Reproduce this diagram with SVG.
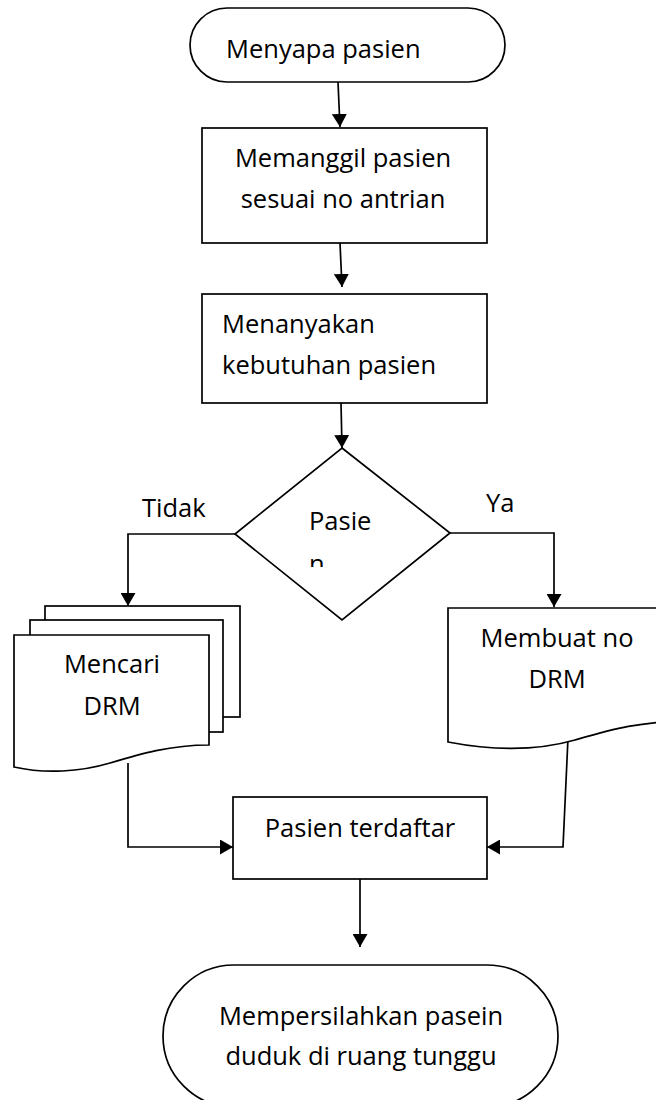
<svg xmlns="http://www.w3.org/2000/svg" width="656" height="1100" viewBox="0 0 656 1100">
  <style>
    .shape { fill: #ffffff; stroke: #000000; stroke-width: 1.7; }
    .edge { fill: none; stroke: #000000; stroke-width: 1.7; }
    .label { font-family: "Open Sans", "Liberation Sans", sans-serif; font-size: 25.5px; fill: #000000; }
    .mid { text-anchor: middle; }
  </style>
  <defs>
    <marker id="arrow" viewBox="0 0 13 15" refX="13" refY="7.5" markerWidth="13" markerHeight="15" markerUnits="userSpaceOnUse" orient="auto">
      <path d="M0,0 L13,7.5 L0,15 Z" fill="#000000"/>
    </marker>
    <clipPath id="decisionClip">
      <rect x="230" y="440" width="230" height="127"/>
    </clipPath>
  </defs>
  <rect width="656" height="1100" fill="#ffffff"/>

  <g id="connectors">
    <line class="edge" x1="338" y1="82" x2="340" y2="127" marker-end="url(#arrow)"/>
    <line class="edge" x1="340" y1="243" x2="342" y2="287" marker-end="url(#arrow)"/>
    <line class="edge" x1="341" y1="403" x2="342" y2="448" marker-end="url(#arrow)"/>
    <polyline class="edge" points="235,534 128,534 128,606" marker-end="url(#arrow)"/>
    <polyline class="edge" points="450,533 554,533 554,607" marker-end="url(#arrow)"/>
    <polyline class="edge" points="128,763 128,847 233,847" marker-end="url(#arrow)"/>
    <polyline class="edge" points="568,738 563,847 487,847" marker-end="url(#arrow)"/>
    <line class="edge" x1="360" y1="879" x2="360" y2="947" marker-end="url(#arrow)"/>
    <text class="label" x="142" y="517">Tidak</text>
    <text class="label" x="486" y="512">Ya</text>
  </g>

  <g id="start">
    <rect class="shape" x="190" y="8" width="315" height="74" rx="37" ry="37"/>
    <text class="label" x="226" y="58">Menyapa pasien</text>
  </g>

  <g id="call-patient">
    <rect class="shape" x="202" y="128" width="285" height="115"/>
    <text class="label mid" x="343" y="167">Memanggil pasien</text>
    <text class="label mid" x="343" y="208">sesuai no antrian</text>
  </g>

  <g id="ask-needs">
    <rect class="shape" x="202" y="294" width="285" height="109"/>
    <text class="label" x="222" y="333">Menanyakan</text>
    <text class="label" x="222" y="374">kebutuhan pasien</text>
  </g>

  <g id="decision">
    <polygon class="shape" points="342,448 450,533 342,620 235,534"/>
    <g clip-path="url(#decisionClip)">
      <text class="label" x="309" y="530">Pasie</text>
      <text class="label" x="309" y="573">n</text>
    </g>
  </g>

  <g id="find-record">
    <rect class="shape" x="45" y="606" width="195" height="111"/>
    <rect class="shape" x="30" y="620" width="193" height="112"/>
    <path class="shape" d="M14,635 H209 V745 C170,745 140,754 110,763 C80,772 45,774 14,767 Z"/>
    <text class="label mid" x="112" y="673">Mencari</text>
    <text class="label mid" x="112" y="715">DRM</text>
  </g>

  <g id="new-record">
    <path class="shape" d="M448,608 H690 V721 C640,721 610,730 575,740 C540,750 500,752 448,742 Z"/>
    <text class="label mid" x="557" y="647">Membuat no</text>
    <text class="label mid" x="557" y="688">DRM</text>
  </g>

  <g id="registered">
    <rect class="shape" x="233" y="797" width="254" height="82"/>
    <text class="label mid" x="360" y="837">Pasien terdaftar</text>
  </g>

  <g id="end">
    <rect class="shape" x="163" y="965" width="395" height="142" rx="71" ry="71"/>
    <text class="label mid" x="361" y="1025">Mempersilahkan pasein</text>
    <text class="label mid" x="361" y="1065">duduk di ruang tunggu</text>
  </g>
</svg>
